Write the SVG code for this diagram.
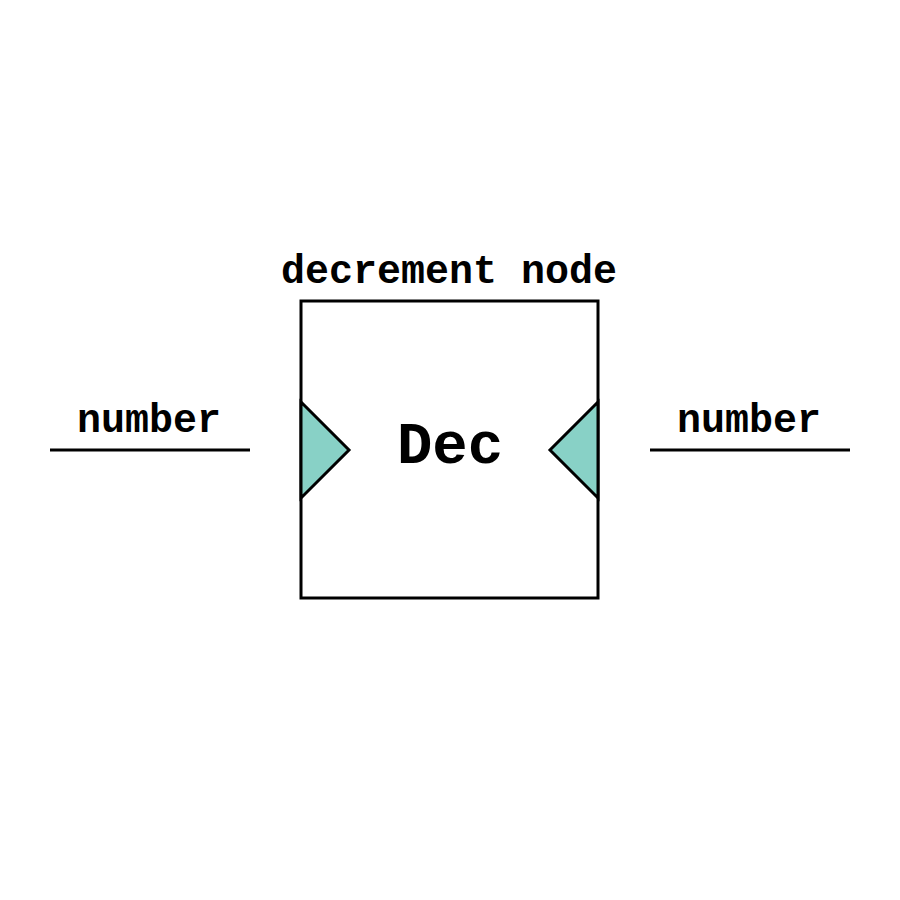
<svg xmlns="http://www.w3.org/2000/svg" width="900" height="900" viewBox="0 0 900 900">
<style>
text{font-family:"Liberation Mono","Courier New",monospace;font-weight:bold;fill:#000;text-anchor:middle}
.ln{stroke:#000;stroke-width:3;fill:none}
.port{fill:#88d1c6;stroke:#000;stroke-width:3;stroke-linejoin:miter}
</style>
<rect width="900" height="900" fill="#fff"/>
<g id="node-dec">
<rect x="301" y="301" width="297" height="297" fill="#fff" stroke="#000" stroke-width="3"/>
<text x="449" y="283" font-size="40">decrement node</text>
<text x="450" y="463" font-size="59">Dec</text>
</g>
<g id="port-in"><polygon class="port" points="301,402 349,450 301,498"/></g>
<g id="port-out"><polygon class="port" points="598,402 550,450 598,498"/></g>
<g id="connectors">
<line class="ln" x1="50" y1="450" x2="250" y2="450"/>
<line class="ln" x1="650" y1="450" x2="850" y2="450"/>
<text x="149" y="432" font-size="40">number</text>
<text x="749" y="432" font-size="40">number</text>
</g>
</svg>
